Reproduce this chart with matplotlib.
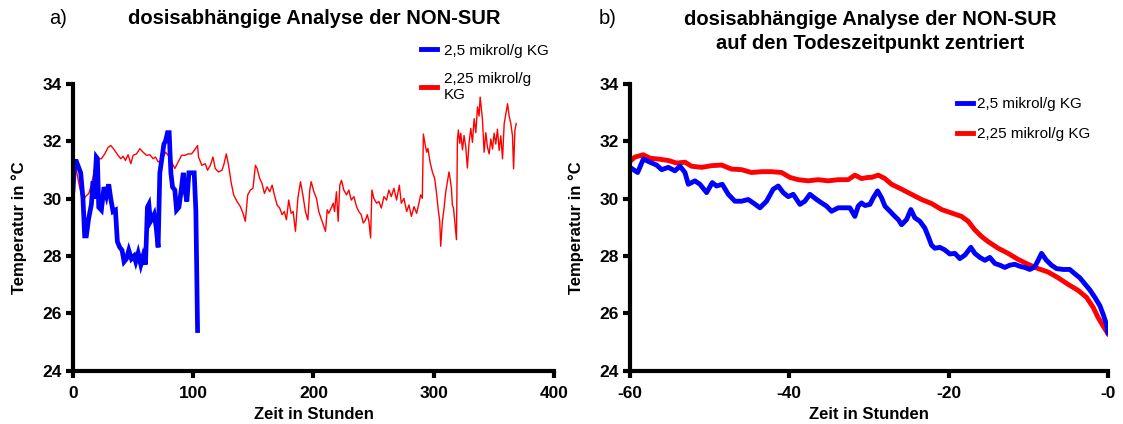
import numpy as np
import matplotlib.pyplot as plt

plt.rcParams['font.family'] = ['Liberation Sans', 'DejaVu Sans']

# a) dosisabhängig, Zeit ab Start (Stunden)
a_blue_h = [0, 1.4, 2.8, 6.4, 8.3, 9.7, 11.1, 13.0, 15.3, 16.7, 17.5, 19.4, 20.3, 21.4,
            23.6, 25.8, 27.8, 29.7, 31.4, 33.3, 35.3, 36.9, 38.9, 40.8, 42.5, 44.4,
            46.4, 48.6, 50.8, 52.2, 54.2, 56.4, 58.3, 60.3, 61.9, 63.1, 64.4, 65.8,
            67.5, 69.2, 70.8, 72.2, 73.6, 75.6, 76.9, 78.6, 80.0, 81.4, 82.8, 84.7,
            86.1, 88.1, 89.7, 91.7, 93.1, 94.7, 96.4, 98.6, 100.8, 102.2, 103.6]
a_blue_t = [30.3, 31.3, 31.3, 30.9, 30.0, 28.7, 28.7, 29.3, 29.8, 30.6, 30.0, 31.45,
            31.4, 29.7, 29.6, 30.4, 30.1, 30.5, 30.0, 29.55, 29.6, 28.5, 28.3, 28.2,
            27.8, 27.9, 28.2, 27.9, 28.0, 27.8, 28.1, 27.7, 28.0, 27.7, 29.7, 29.8,
            29.2, 29.3, 29.45, 29.0, 28.3, 30.9, 31.3, 31.9, 32.0, 32.3, 32.3, 30.9,
            30.4, 30.3, 29.6, 29.7, 30.2, 30.9, 30.3, 29.9, 30.9, 30.9, 30.9, 29.55,
            25.4]

a_red_h = [0, 2.8, 5.0, 8.3, 10.3, 13.1, 15.3, 17.5, 19.4, 21.4, 23.6, 26.4, 29.2,
           31.4, 33.3, 35.3, 37.5, 39.7, 41.7, 43.6, 45.8, 48.1, 50.0, 52.8, 55.6,
           58.3, 61.1, 63.9, 66.7, 68.6, 70.8, 73.1, 75.0, 77.0, 79.2, 81.9, 84.7,
           87.5, 90.3, 93.1, 95.8, 98.6, 100.8, 103.6,
           104.4, 107.2, 110.0, 111.9, 114.2, 116.4, 118.3, 121.1, 123.9, 125.3,
           127.5, 129.4, 131.4, 133.6, 136.4, 139.2, 141.4, 143.3, 145.3, 147.5,
           149.7, 151.7, 153.1, 155.3, 157.2, 159.2, 161.4, 163.6, 165.6, 167.5,
           169.7, 171.9, 173.9, 175.8, 177.5, 179.4, 181.4, 183.1, 185.0, 187.0,
           189.2, 191.4, 193.3, 195.3, 196.9, 198.1, 200.3, 202.5, 204.4, 206.7,
           208.6, 210.0, 211.4,
           212.7, 214.7, 216.4, 217.5, 219.1, 220.5, 221.9, 223.3, 225.2, 227.5,
           229.4, 231.4, 233.6, 235.8, 237.7, 239.7, 241.4, 243.3, 244.7, 246.1,
           247.5, 248.6, 250.2, 252.5, 254.4, 256.4, 258.6, 260.8, 262.7, 264.7,
           266.9, 269.1, 271.4, 273.0, 275.2, 277.5, 279.4, 281.4, 283.6, 285.8,
           287.7, 289.1, 290.5, 291.4, 292.5, 294.1, 295.2, 296.9, 298.9, 300.8,
           302.5, 303.6, 305.0, 305.8,
           307.2, 308.6, 310.0, 311.4, 312.7, 313.6, 314.7, 315.5, 316.4, 317.5,
           318.9, 319.7, 320.5, 321.6, 322.5, 323.9, 325.2, 326.6, 328.0, 329.4,
           330.8, 332.2, 333.6, 335.0, 336.4, 337.7, 338.6, 339.7, 340.5, 341.9,
           343.3, 344.7, 346.1, 347.5, 348.9, 350.2, 351.6, 353.0, 354.4, 355.8,
           357.2, 358.6, 360.0, 361.4, 362.7, 364.1, 365.5, 366.4, 367.5, 368.6]
a_red_t = [31.4, 31.0, 30.5, 29.9, 30.07, 30.18, 30.47, 30.93, 31.45, 31.39, 31.39,
           31.56, 31.79, 31.85, 31.76, 31.64, 31.51, 31.39, 31.48, 31.33, 31.53,
           31.22, 31.51, 31.56, 31.74, 31.62, 31.51, 31.53, 31.39, 31.45, 31.28,
           31.33, 31.45, 31.62, 31.51, 31.28, 31.05, 31.28, 31.51, 31.51, 31.56,
           31.56, 31.68, 31.85,
           31.45, 31.16, 31.22, 30.99, 31.16, 31.45, 31.05, 30.93, 30.99, 31.16,
           31.56, 31.16, 30.59, 30.13, 29.9, 29.72, 29.49, 29.21, 30.13, 30.3,
           30.36, 31.16, 31.05, 30.7, 30.53, 30.18, 30.41, 30.24, 30.47, 30.13,
           29.78, 29.67, 29.44, 29.55, 29.26, 29.95, 29.49, 29.55, 28.86, 30.01,
           30.59, 30.07, 29.55, 29.26, 30.3, 30.59, 30.24, 30.01, 29.55, 29.26,
           29.03, 28.86, 29.61,
           29.49, 29.67, 29.84, 29.55, 30.24, 29.21, 30.47, 30.64, 30.3, 30.13,
           30.3, 29.95, 30.07, 29.72, 29.55, 29.44, 29.15, 29.26, 29.44, 29.21,
           28.63, 30.3, 30.01, 29.84, 29.9, 29.67, 30.07, 29.95, 30.3, 30.07,
           30.36, 29.95, 30.47, 29.84, 30.01, 29.55, 29.78, 29.38, 29.72, 29.49,
           29.84, 30.13, 30.01, 32.25, 31.97, 31.62, 31.75, 31.28, 30.93, 30.7,
           30.13, 29.67, 29.21, 28.34,
           29.21, 29.67, 30.24, 30.59, 30.93, 30.7, 30.36, 29.78, 29.67, 29.21,
           28.57, 32.05, 32.39, 31.93, 32.28, 31.7, 32.2, 31.82, 31.07, 31.96,
           32.45, 31.96, 32.79, 32.3, 33.2, 32.88, 33.54, 33.1, 32.77, 31.62,
           32.3, 31.79, 31.56, 32.08, 31.73, 32.28, 31.9, 32.42, 31.68, 32.19,
           31.39, 32.62, 32.97, 33.31, 32.88, 32.62, 32.19, 31.04, 32.39, 32.62]

# b) auf den Todeszeitpunkt zentriert
b_blue_h = [-60.0, -59.04, -58.33, -57.49, -56.66, -56.03, -55.19, -54.36, -53.73,
            -53.1, -52.68, -51.85, -51.22, -50.38, -49.67, -49.13, -48.42, -47.66,
            -46.83, -45.99, -45.16, -44.53, -43.69, -42.86, -42.02, -41.39, -40.76,
            -40.14, -39.51, -38.67, -38.05, -37.42, -36.58, -35.95, -35.33, -34.7,
            -33.86, -33.03, -32.4, -31.77, -31.35, -30.94, -30.5,
            -29.88, -29.46, -28.92, -28.42, -28.0, -27.37, -26.75, -26.33, -25.91,
            -25.28, -24.74, -24.24, -23.61, -22.98, -22.56, -22.15, -21.73, -21.1,
            -20.47, -19.85, -19.22, -18.59, -17.96, -17.21, -16.71, -16.08, -15.45,
            -14.83, -14.2, -13.57, -12.94, -12.32, -11.69, -11.06, -10.44, -9.81,
            -9.18, -8.76, -8.34, -7.72, -7.09, -6.46, -5.62, -4.79, -4.16, -3.53,
            -2.91, -2.28, -1.65, -1.02, -0.61, -0.19, 0.0]
b_blue_t = [31.09, 30.91, 31.38, 31.27, 31.17, 31.01, 31.09, 30.97, 31.13, 30.91,
            30.5, 30.62, 30.5, 30.21, 30.56, 30.44, 30.5, 30.15, 29.91, 29.91,
            29.97, 29.85, 29.68, 29.91, 30.33, 30.44, 30.21, 30.07, 30.15, 29.8,
            29.91, 30.15, 29.97, 29.85, 29.74, 29.56, 29.68, 29.68, 29.68, 29.38,
            29.74, 29.85, 29.76,
            29.8, 30.03, 30.27, 30.03, 29.74, 29.56, 29.38, 29.27, 29.09, 29.27,
            29.62, 29.33, 29.21, 28.97, 28.68, 28.38, 28.27, 28.3, 28.21, 28.07,
            28.09, 27.91, 28.03, 28.3, 28.09, 27.95, 27.85, 27.95, 27.74, 27.68,
            27.6, 27.68, 27.71, 27.64, 27.6, 27.53, 27.62, 27.85, 28.09, 27.85,
            27.68, 27.56, 27.53, 27.53, 27.38, 27.24, 27.03, 26.82, 26.56, 26.27,
            25.97, 25.62, 25.33]

b_red_h = [-60.0, -59.38, -58.33, -57.49, -56.45, -55.19, -54.15, -53.1, -52.27,
           -51.01, -49.76, -48.5, -47.25, -45.99, -44.74, -43.48, -42.23, -40.97,
           -39.93, -38.88, -37.63, -36.37, -35.12, -33.86, -32.61, -31.77, -30.94,
           -30.1, -29.67, -28.84, -28.0, -27.16, -25.91, -24.66, -23.4, -22.15,
           -20.89, -19.64, -18.38, -17.55, -16.71, -15.87, -15.04, -13.78, -12.53,
           -11.27, -10.02, -8.76, -7.51, -6.25, -5.0, -3.74, -2.7, -1.86, -1.23,
           -0.61, 0.0]
b_red_t = [31.3, 31.45, 31.53, 31.41, 31.38, 31.33, 31.24, 31.27, 31.13, 31.09,
           31.15, 31.17, 31.03, 31.01, 30.91, 30.94, 30.94, 30.91, 30.74, 30.66,
           30.62, 30.66, 30.62, 30.66, 30.66, 30.82, 30.7, 30.74, 30.74, 30.82,
           30.7, 30.5, 30.33, 30.15, 29.97, 29.83, 29.62, 29.5, 29.38, 29.21,
           28.91, 28.68, 28.5, 28.27, 28.09, 27.88, 27.71, 27.56, 27.44, 27.24,
           27.01, 26.8, 26.56, 26.21, 25.85, 25.56, 25.29]

labels = ['2,5 mikrol/g KG', '2,25 mikrol/g KG']
BLUE = '#0000ff'
RED = '#ff0000'

fig = plt.figure(figsize=(11.23, 4.24), dpi=100)
ax1 = fig.add_axes([0.065, 0.1257, 0.4283, 0.6764])
ax2 = fig.add_axes([0.561, 0.1257, 0.4256, 0.6764])


def style(ax):
    for s in ['top', 'right']:
        ax.spines[s].set_visible(False)
    for s in ['left', 'bottom']:
        ax.spines[s].set_linewidth(3)
    ax.tick_params(width=3, length=5, direction='out', labelsize=12.5)
    ax.tick_params(axis='x', pad=6)
    ax.tick_params(axis='y', pad=3)
    for lab in ax.get_xticklabels() + ax.get_yticklabels():
        lab.set_fontweight('bold')
    ax.set_ylim(24, 34)
    ax.set_yticks([24, 26, 28, 30, 32, 34])
    ax.set_ylabel('Temperatur in °C', fontsize=12, fontweight='bold', labelpad=11)
    ax.set_xlabel('Zeit in Stunden', fontsize=12, fontweight='bold', labelpad=4)


# Panel a
ax1.plot(a_red_h, a_red_t, color=RED, lw=1.0)
ax1.plot(a_blue_h, a_blue_t, color=BLUE, lw=3.4, solid_joinstyle='miter')
ax1.set_xlim(0, 400)
ax1.set_xticks([0, 100, 200, 300, 400])
style(ax1)
hb = plt.Line2D([], [], color=BLUE, lw=3.5)
hr = plt.Line2D([], [], color=RED, lw=3.5)
ax1.legend([hb, hr], [labels[0], '2,25 mikrol/g\nKG'], loc='upper left',
           bbox_to_anchor=(0.375, 0.897), bbox_transform=fig.transFigure,
           frameon=False, fontsize=11, handlelength=1.05, handletextpad=0.45,
           labelspacing=0.95, borderpad=0, borderaxespad=0)

# Panel b
ax2.plot(b_red_h, b_red_t, color=RED, lw=3.5)
ax2.plot(b_blue_h, b_blue_t, color=BLUE, lw=3.5)
ax2.set_xlim(-60, 0)
ax2.set_xticks([-60, -40, -20, 0])
ax2.set_xticklabels(['-60', '-40', '-20', '-0'])
style(ax2)
ax2.legend([hb, hr], labels, loc='upper left',
           bbox_to_anchor=(0.852, 0.771), bbox_transform=fig.transFigure,
           frameon=False, fontsize=11, handlelength=1.05, handletextpad=0.3,
           labelspacing=1.05, borderpad=0, borderaxespad=0)

# Titel
fig.text(0.2796, 0.9575, 'dosisabhängige Analyse der NON-SUR', ha='center',
         va='center', fontsize=14.5, fontweight='bold')
fig.text(0.0516, 0.9575, 'a)', ha='center', va='center', fontsize=14.5)
fig.text(0.7747, 0.926, 'dosisabhängige Analyse der NON-SUR\nauf den Todeszeitpunkt zentriert',
         ha='center', va='center', fontsize=14.5, fontweight='bold', linespacing=1.3)
fig.text(0.5414, 0.9575, 'b)', ha='center', va='center', fontsize=14.5)

plt.savefig('out.png', dpi=100)
